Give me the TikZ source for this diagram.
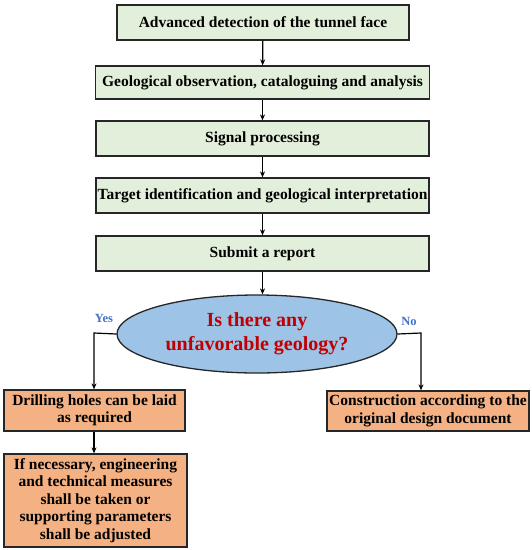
\documentclass[tikz,border=0pt]{standalone}
\usepackage{fontspec}
\setmainfont{Liberation Serif}
\usetikzlibrary{shapes.geometric,arrows.meta}
\definecolor{gbox}{RGB}{226,239,218}
\definecolor{obox}{RGB}{244,177,131}
\definecolor{ell}{RGB}{157,195,230}
\definecolor{qred}{RGB}{192,0,0}
\definecolor{lblue}{RGB}{68,114,196}
\tikzset{
  x=1pt,y=-1pt,
  gstep/.style={draw=black!85,line width=1.3pt,fill=gbox,inner sep=0pt,font=\bfseries\fontsize{15.5}{17}\selectfont},
  ostep/.style={draw=black!85,line width=1.3pt,fill=obox,inner sep=0pt,align=center,font=\bfseries\fontsize{15.5}{17.5}\selectfont},
  conn/.style={line width=1.2pt,-{Stealth[length=6pt,width=5pt]}},
  lbl/.style={text=lblue,font=\bfseries\fontsize{12.5}{14}\selectfont}
}
\begin{document}
\begin{tikzpicture}
\useasboundingbox (0,0) rectangle (532,550);
\node[gstep,minimum width=292pt,minimum height=35pt] (b1) at (263,22.5) {Advanced detection of the tunnel face};
\node[gstep,minimum width=334pt,minimum height=33pt] (b2) at (262.5,82.5) {Geological observation, cataloguing and analysis};
\node[gstep,minimum width=333pt,minimum height=35pt] (b3) at (262.5,138.5) {Signal processing};
\node[gstep,minimum width=333pt,minimum height=35pt] (b4) at (262.5,195.5) {Target identification and geological interpretation};
\node[gstep,minimum width=333pt,minimum height=35pt] (b5) at (262.5,253.5) {Submit a report};
\node[ellipse,draw=black!85,line width=1.3pt,fill=ell,minimum width=280pt,minimum height=78pt,inner sep=0pt,align=center,text=qred,font=\bfseries\fontsize{20}{24}\selectfont] (q) at (257,334) {Is there any\\unfavorable geology?};
\node[ostep,minimum width=181pt,minimum height=41pt] (l1) at (94.5,410.5) {Drilling holes can be laid\\as required};
\node[ostep,minimum width=183pt,minimum height=93pt] (l2) at (95.5,500.5) {If necessary, engineering\\and technical measures\\shall be taken or\\supporting parameters\\shall be adjusted};
\node[ostep,minimum width=202pt,minimum height=40pt] (r1) at (428,411) {Construction according to the\\original design document};
\coordinate (lt) at (94,333);
\coordinate (rt) at (421,333);
\draw[conn] (b1) -- (b2);
\draw[conn] (b2) -- (b3);
\draw[conn] (b3) -- (b4);
\draw[conn] (b4) -- (b5);
\draw[conn] (b5.south) -- (b5.south |- q.north);
\draw[conn] (q.west) -- (lt) -- (lt |- l1.north);
\draw[conn] (q.east) -- (rt) -- (rt |- r1.north);
\draw[conn] (l1.south -| lt) -- (lt |- l2.north);
\node[lbl] (yes) at (104,318) {Yes};
\node[lbl] (no) at (409,321) {No};
\end{tikzpicture}
\end{document}
